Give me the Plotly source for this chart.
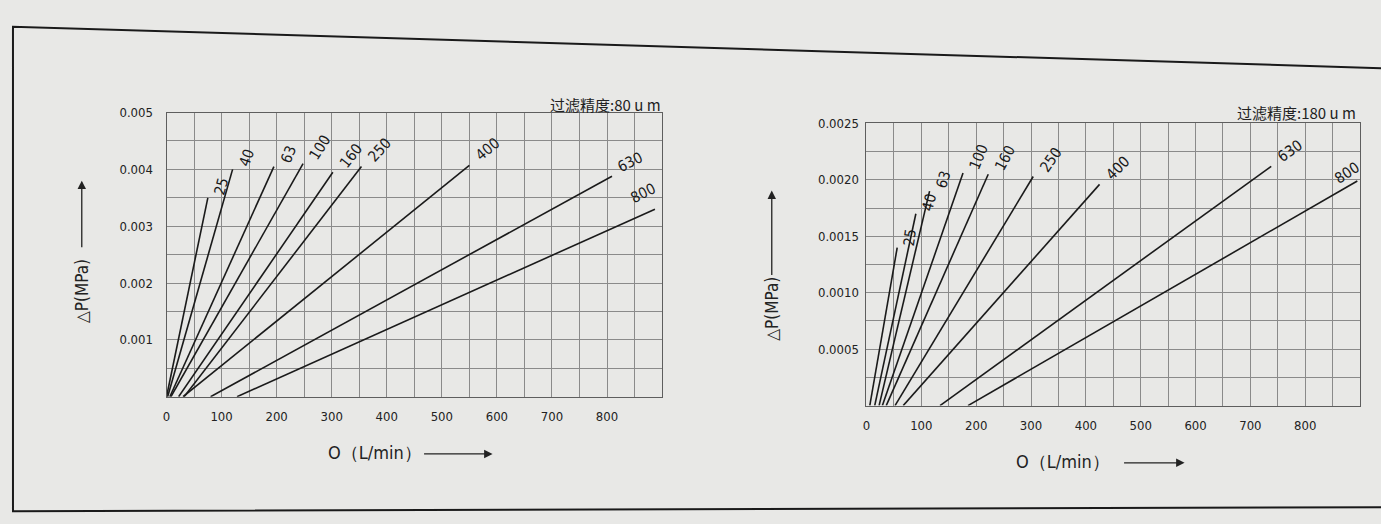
import plotly.graph_objects as go

W, H = 1381, 524

# ---------------- data ----------------
sizes = ["25", "40", "63", "100", "160", "250", "400", "630", "800"]

# 过滤精度 80 um : each line runs from (q_start, 0) to (q_end, dp_end)
q_start_80 = [0, 2, 6, 8, 22, 32, 30, 80, 128]
q_end_80 = [75, 120, 195, 248, 302, 354, 550, 809, 887]
dp_end_80 = [0.0035, 0.0040, 0.00405, 0.0041, 0.00395, 0.00405, 0.00407, 0.00388, 0.0033]

# 过滤精度 180 um
q_start_180 = [6, 15, 23, 29, 36, 52, 67, 134, 185]
q_end_180 = [56, 90, 115, 176, 222, 304, 425, 738, 895]
dp_end_180 = [0.0014, 0.0017, 0.0019, 0.00206, 0.00205, 0.00203, 0.00196, 0.00212, 0.00199]

x_ticks = [0, 100, 200, 300, 400, 500, 600, 700, 800]
x_tick_text = ["0", "100", "200", "300", "400", "500", "600", "700", "800"]
y_ticks_80 = [0.001, 0.002, 0.003, 0.004, 0.005]
y_tick_text_80 = ["0.001", "0.002", "0.003", "0.004", "0.005"]
y_ticks_180 = [0.0005, 0.0010, 0.0015, 0.0020, 0.0025]
y_tick_text_180 = ["0.0005", "0.0010", "0.0015", "0.0020", "0.0025"]

title_80 = "过滤精度:80 u m"
title_180 = "过滤精度:180 u m"
y_title = "△P(MPa)"
x_title = "O（L/min）"

# ---------------- style ----------------
ang_80 = [-75, -70, -68, -58, -52, -48, -40, -27, -27]
ang_180 = [-82, -76, -73, -68, -62, -55, -45, -35, -33]
# label offsets in pixels (x right, y up)
dx_80 = [0, 0, 0, 0, 0, 0, 0, 0, -30]
dy_80 = [-2, -2, -2, -2, -2, -2, -2, -2, 0]
dx_180 = [0, 0, 0, 0, 0, 0, 0, 0, -29]
dy_180 = [-2, -2, -2, -2, -2, -2, -2, -2, -9]

BG = "#e8e8e6"
GRID = "#8a8a8a"
INK = "#1a1a1a"
FONT = "DejaVu Sans Condensed, Liberation Sans Narrow, DejaVu Sans, sans-serif"
CJK = "Noto Sans CJK SC, DejaVu Sans Condensed, sans-serif"


def px(x):
    return x / W


def py(y):
    return 1 - y / H


fig = go.Figure()

for i, s in enumerate(sizes):
    fig.add_trace(go.Scatter(
        x=[q_start_80[i], q_end_80[i]], y=[0, dp_end_80[i]],
        mode="lines", line=dict(color=INK, width=1.6),
        xaxis="x", yaxis="y", showlegend=False, hoverinfo="skip"))
    fig.add_annotation(
        x=q_end_80[i], y=dp_end_80[i], xref="x", yref="y", text=s,
        textangle=ang_80[i], showarrow=False, xanchor="left", yanchor="bottom",
        xshift=dx_80[i], yshift=dy_80[i], font=dict(family=FONT, size=15, color=INK))

for i, s in enumerate(sizes):
    fig.add_trace(go.Scatter(
        x=[q_start_180[i], q_end_180[i]], y=[0, dp_end_180[i]],
        mode="lines", line=dict(color=INK, width=1.6),
        xaxis="x2", yaxis="y2", showlegend=False, hoverinfo="skip"))
    fig.add_annotation(
        x=q_end_180[i], y=dp_end_180[i], xref="x2", yref="y2", text=s,
        textangle=ang_180[i], showarrow=False, xanchor="left", yanchor="bottom",
        xshift=dx_180[i], yshift=dy_180[i], font=dict(family=FONT, size=15, color=INK))


def xaxis_cfg(domain, anchor):
    return dict(
        domain=domain, anchor=anchor, range=[0, 900],
        tickmode="array", tickvals=x_ticks, ticktext=x_tick_text,
        showgrid=True, gridcolor=GRID, gridwidth=1,
        minor=dict(tickmode="linear", tick0=0, dtick=50, showgrid=True,
                   gridcolor=GRID, gridwidth=1, ticks=""),
        showline=True, linecolor="#5e5e5e", linewidth=1, mirror=True,
        zeroline=False, ticks="", ticklabelstandoff=8,
        tickfont=dict(family=FONT, size=13, color="#222"),
        fixedrange=True)


def yaxis_cfg(domain, anchor, rng, tv, tt, minor_dt, standoff):
    return dict(
        domain=domain, anchor=anchor, range=rng,
        tickmode="array", tickvals=tv, ticktext=tt,
        showgrid=True, gridcolor=GRID, gridwidth=1,
        minor=dict(tickmode="linear", tick0=0, dtick=minor_dt, showgrid=True,
                   gridcolor=GRID, gridwidth=1, ticks=""),
        showline=True, linecolor="#5e5e5e", linewidth=1, mirror=True,
        zeroline=False, ticks="", ticklabelstandoff=standoff,
        tickfont=dict(family=FONT, size=13, color="#222"),
        fixedrange=True)


fig.update_layout(
    width=W, height=H,
    margin=dict(l=0, r=0, t=0, b=0),
    paper_bgcolor=BG, plot_bgcolor=BG,
    showlegend=False,
    xaxis=xaxis_cfg([px(163), px(660)], "y"),
    yaxis=yaxis_cfg([py(395), py(107)], "x", [0, 0.005], y_ticks_80, y_tick_text_80, 0.0005, 10),
    xaxis2=xaxis_cfg([px(865), px(1360)], "y2"),
    yaxis2=yaxis_cfg([py(404), py(118)], "x2", [0, 0.0025], y_ticks_180, y_tick_text_180, 0.00025, 4),
)

# titles at top right of each grid
fig.add_annotation(x=px(661), y=py(99), xref="paper", yref="paper", text=title_80,
                   showarrow=False, xanchor="right", yanchor="middle",
                   font=dict(family=CJK, size=15, color="#222"))
fig.add_annotation(x=px(1358), y=py(107), xref="paper", yref="paper", text=title_180,
                   showarrow=False, xanchor="right", yanchor="middle",
                   font=dict(family=CJK, size=15, color="#222"))

# y titles with upward arrows (text centre x, centre y, arrow tail y, arrow head y)
for xc, yc, ya0, ya1 in [(78, 288, 244, 176), (770, 306, 272, 186)]:
    fig.add_annotation(x=px(xc), y=py(yc), xref="paper", yref="paper", text=y_title,
                       textangle=-90, showarrow=False, xanchor="center", yanchor="middle",
                       font=dict(family=FONT, size=17, color="#222"))
    fig.add_annotation(x=px(xc), y=py(ya1), xref="paper", yref="paper",
                       axref="pixel", ayref="pixel", ax=0, ay=ya0 - ya1,
                       text="", showarrow=True, arrowhead=2, arrowsize=1.3,
                       arrowwidth=1.3, arrowcolor="#222")

# x titles with right arrows
for xc, yc, xa0, xa1 in [(372, 452, 420, 490), (1062, 461, 1122, 1184)]:
    fig.add_annotation(x=px(xc), y=py(yc), xref="paper", yref="paper", text=x_title,
                       showarrow=False, xanchor="center", yanchor="middle",
                       font=dict(family=FONT, size=18, color="#222"))
    fig.add_annotation(x=px(xa1), y=py(yc + 1), xref="paper", yref="paper",
                       axref="pixel", ayref="pixel", ax=-(xa1 - xa0), ay=0,
                       text="", showarrow=True, arrowhead=2, arrowsize=1.3,
                       arrowwidth=1.3, arrowcolor="#222")

# scanned page frame
fig.add_shape(type="path", xref="paper", yref="paper",
              path=f"M {px(1381)},{py(62)} L {px(9)},{py(20)} L {px(9)},{py(511)} L {px(1381)},{py(507)}",
              line=dict(color="#1a1a1a", width=2))

fig.write_html("out.html", config={"displayModeBar": False},
               post_script="document.body.style.margin='0px';document.body.style.overflow='hidden';")
